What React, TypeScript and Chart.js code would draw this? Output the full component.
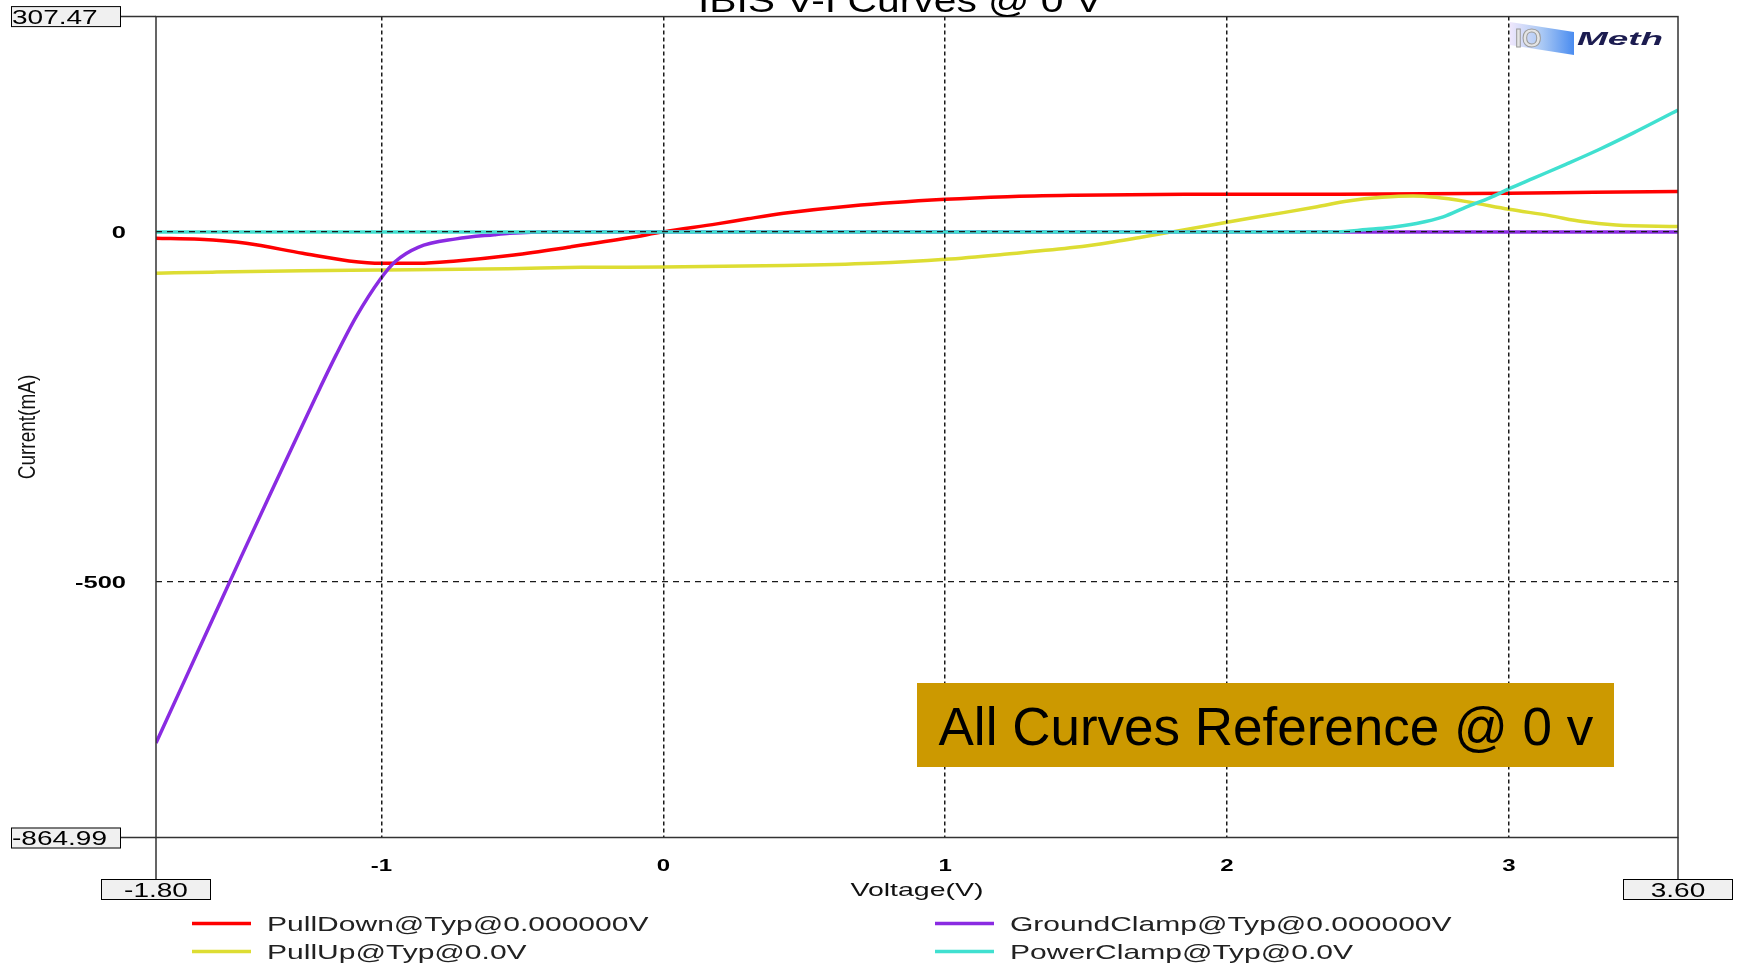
import React, { useEffect, useRef } from 'react';
import { Chart, registerables } from 'chart.js';

Chart.register(...registerables);

// ---------- texts ----------
const CHART_TITLE = 'IBIS V-I Curves @ 0 V';
const X_AXIS_TITLE = 'Voltage(V)';
const Y_AXIS_TITLE = 'Current(mA)';
const ANNOTATION_TEXT = 'All Curves Reference @ 0 v';
const LOGO_MARK = 'IO';
const LOGO_TEXT = 'Meth';

// ---------- axes ----------
const X_MIN = -1.8;
const X_MAX = 3.6;
const Y_MIN = -864.99;
const Y_MAX = 307.47;
const X_TICKS = [-1, 0, 1, 2, 3];
const Y_TICKS = [-500, 0];
const X_MIN_LABEL = '-1.80';
const X_MAX_LABEL = '3.60';
const Y_MIN_LABEL = '-864.99';
const Y_MAX_LABEL = '307.47';

// ---------- series ----------
const SERIES_LABELS = [
  'PullDown@Typ@0.000000V',
  'PullUp@Typ@0.0V',
  'GroundClamp@Typ@0.000000V',
  'PowerClamp@Typ@0.0V',
];
const SERIES_COLORS = ['#FF0000', '#DDDD33', '#8A2BE2', '#40E0D0'];

const PULLDOWN_V = [-1.8, -1.645, -1.48, -1.28, -1.115, -1.0, -0.87, -0.735, -0.53, -0.33, -0.12, 0.0, 0.19, 0.3, 0.427, 0.665, 1.0, 1.22, 1.46, 1.85, 2.4, 3.0, 3.3, 3.6];
const PULLDOWN_I = [-9, -10.6, -16.3, -30.6, -41.5, -44.9, -44.9, -41.5, -33, -21.5, -8.5, 0, 11.4, 18.7, 26.5, 37, 46.5, 50.3, 52.2, 53.6, 53.8, 55, 56.5, 57.5];

const PULLUP_V = [-1.8, -1.6, -1.28, -1.0, -0.55, -0.29, 0.0, 0.43, 0.74, 1.0, 1.22, 1.46, 1.6, 1.7, 1.805, 2.0, 2.08, 2.2, 2.32, 2.43, 2.55, 2.66, 2.74, 2.85, 3.0, 3.145, 3.26, 3.38, 3.6];
const PULLUP_I = [-59, -57.5, -55.5, -54.5, -52.6, -50.7, -50.2, -48.2, -44.9, -39.2, -31.6, -22.1, -14, -7.3, 0, 13.8, 19.4, 27.5, 36, 44.2, 49.4, 51.3, 49.4, 43.2, 32.3, 23.2, 14.7, 9.9, 7.5];

const GROUNDCLAMP_V = [-1.8, -1.7, -1.6, -1.5, -1.4, -1.3, -1.23, -1.16, -1.088, -1.005, -0.953, -0.87, -0.735, -0.6, -0.545, -0.4, 3.6];
const GROUNDCLAMP_I = [-730, -642, -554, -466, -379, -293, -233, -175, -120, -68, -43, -22, -10, -4, -2, 0, 0];

const POWERCLAMP_V = [-1.8, 2.39, 2.495, 2.578, 2.672, 2.767, 2.85, 2.932, 3.003, 3.086, 3.204, 3.322, 3.44, 3.6];
const POWERCLAMP_I = [0, 0, 3.3, 6.2, 12, 21.5, 35.8, 48.6, 62, 76.4, 96.8, 118, 141, 174];

// ---------- layout ----------
const W = 1737;
const H = 965;
const PLOT_LEFT = 156;
const PLOT_RIGHT = 1678;
const PLOT_TOP = 16.6;
const PLOT_BOTTOM = 837.5;
const FONT = '"Liberation Sans", Arial, Helvetica, sans-serif';

type TextOpts = {
  size: number;
  weight?: string;
  style?: string;
  sx?: number;
  align?: 'left' | 'center' | 'right';
  baseline?: CanvasTextBaseline;
  color?: string;
};

function drawText(ctx: CanvasRenderingContext2D, text: string, x: number, y: number, o: TextOpts) {
  ctx.save();
  ctx.font = `${o.style || 'normal'} ${o.weight || 'normal'} ${o.size}px ${FONT}`;
  ctx.fillStyle = o.color || '#000';
  ctx.textBaseline = o.baseline || 'alphabetic';
  ctx.textAlign = 'left';
  const sx = o.sx || 1;
  const w = ctx.measureText(text).width * sx;
  const align = o.align || 'left';
  const x0 = align === 'left' ? x : align === 'center' ? x - w / 2 : x - w;
  ctx.translate(x0, y);
  ctx.scale(sx, 1);
  ctx.fillText(text, 0, 0);
  ctx.restore();
}

function drawBox(ctx: CanvasRenderingContext2D, x: number, y: number, w: number, h: number, text: string, align: 'left' | 'center') {
  ctx.save();
  ctx.fillStyle = '#f0f0f0';
  ctx.fillRect(x, y, w, h);
  ctx.strokeStyle = '#000';
  ctx.lineWidth = 1;
  ctx.strokeRect(x + 0.5, y + 0.5, w - 1, h - 1);
  ctx.restore();
  const tx = align === 'left' ? x + 1 : x + w / 2;
  drawText(ctx, text, tx, y + h - 3.5, { size: 20, sx: 1.4, align, color: '#000' });
}

const decorPlugin = {
  id: 'ibisDecor',
  beforeDraw(chart: any) {
    const ctx = chart.ctx as CanvasRenderingContext2D;
    ctx.save();
    ctx.fillStyle = '#fff';
    ctx.fillRect(0, 0, chart.width, chart.height);
    ctx.restore();
  },
  afterDraw(chart: any) {
    const ctx = chart.ctx as CanvasRenderingContext2D;
    const a = chart.chartArea;
    const xs = chart.scales.x;
    const ys = chart.scales.y;

    // frame and extension lines
    ctx.save();
    ctx.strokeStyle = '#333';
    ctx.lineWidth = 1.5;
    ctx.strokeRect(a.left, a.top, a.right - a.left, a.bottom - a.top);
    ctx.beginPath();
    ctx.moveTo(a.left, a.top); ctx.lineTo(121, a.top);
    ctx.moveTo(a.left, a.bottom); ctx.lineTo(121, a.bottom);
    ctx.moveTo(a.left, a.bottom); ctx.lineTo(a.left, 879);
    ctx.moveTo(a.right, a.bottom); ctx.lineTo(a.right, 879);
    ctx.stroke();
    ctx.restore();

    // range boxes
    drawBox(ctx, 11, a.top - 10.5, 110, 21, Y_MAX_LABEL, 'left');
    drawBox(ctx, 11, a.bottom - 10, 110, 21, Y_MIN_LABEL, 'left');
    drawBox(ctx, a.left - 55, 879, 110, 21, X_MIN_LABEL, 'center');
    drawBox(ctx, a.right - 55, 879, 110, 21, X_MAX_LABEL, 'center');

    // tick labels
    Y_TICKS.forEach((v) => {
      drawText(ctx, String(v), 126, ys.getPixelForValue(v) + 1.5, { size: 17, weight: 'bold', sx: 1.5, align: 'right', baseline: 'middle', color: '#000' });
    });
    X_TICKS.forEach((v) => {
      drawText(ctx, String(v), xs.getPixelForValue(v), 867, { size: 16, weight: 'bold', sx: 1.5, align: 'center', baseline: 'middle', color: '#000' });
    });

    // axis titles
    drawText(ctx, X_AXIS_TITLE, (a.left + a.right) / 2, 896, { size: 19, sx: 1.5, align: 'center', color: '#111' });
    ctx.save();
    ctx.translate(28, (a.top + a.bottom) / 2);
    ctx.rotate(-Math.PI / 2);
    ctx.scale(1, 1.25);
    ctx.font = `normal normal 19px ${FONT}`;
    ctx.fillStyle = '#111';
    ctx.textAlign = 'center';
    ctx.textBaseline = 'middle';
    ctx.fillText(Y_AXIS_TITLE, 0, 0);
    ctx.restore();

    // title (cut by the top edge)
    drawText(ctx, CHART_TITLE, 900, 11.5, { size: 34, sx: 1.2, align: 'center', color: '#000' });

    // annotation
    ctx.save();
    ctx.fillStyle = '#CC9900';
    ctx.fillRect(917, 683, 697, 84);
    ctx.restore();
    drawText(ctx, ANNOTATION_TEXT, 938.5, 745, { size: 53, align: 'left', color: '#000' });

    // legend
    const cols = [{ lx: 192, tx: 267 }, { lx: 935, tx: 1010 }];
    const rows = [931, 959];
    chart.data.datasets.forEach((ds: any, i: number) => {
      const c = cols[Math.floor(i / 2)];
      const r = rows[i % 2];
      ctx.save();
      ctx.strokeStyle = ds.borderColor;
      ctx.lineWidth = 3.5;
      ctx.beginPath();
      ctx.moveTo(c.lx, r - 7.5);
      ctx.lineTo(c.lx + 59, r - 7.5);
      ctx.stroke();
      ctx.restore();
      drawText(ctx, ds.label, c.tx, r, { size: 21, sx: 1.43, align: 'left', color: '#222' });
    });

    // logo
    ctx.save();
    const g = ctx.createLinearGradient(1510, 0, 1574, 0);
    g.addColorStop(0, 'rgba(238,230,252,0.95)');
    g.addColorStop(0.5, '#a9c8f4');
    g.addColorStop(1, '#4a8cf0');
    ctx.fillStyle = g;
    ctx.beginPath();
    ctx.moveTo(1510, 22);
    ctx.lineTo(1574, 32);
    ctx.lineTo(1574, 55);
    ctx.lineTo(1510, 45);
    ctx.closePath();
    ctx.fill();
    ctx.restore();
    ctx.save();
    ctx.font = `normal bold 25px ${FONT}`;
    ctx.fillStyle = '#e4e4e4';
    ctx.strokeStyle = '#9a9a9a';
    ctx.lineWidth = 1;
    ctx.textBaseline = 'alphabetic';
    ctx.fillText(LOGO_MARK, 1515, 47);
    ctx.strokeText(LOGO_MARK, 1515, 47);
    ctx.restore();
    drawText(ctx, LOGO_TEXT, 1577, 45, { size: 18, weight: 'bold', style: 'italic', sx: 2.05, align: 'left', color: '#1c1c50' });
  },
};

const toPoints = (xv: number[], yv: number[]) => xv.map((x, i) => ({ x, y: yv[i] }));

export default function App() {
  const ref = useRef<HTMLCanvasElement>(null);

  useEffect(() => {
    const canvas = ref.current;
    if (!canvas) return;
    const seriesX = [PULLDOWN_V, PULLUP_V, GROUNDCLAMP_V, POWERCLAMP_V];
    const seriesY = [PULLDOWN_I, PULLUP_I, GROUNDCLAMP_I, POWERCLAMP_I];
    const drawOrder = [3, 2, 1, 0];
    const datasets = SERIES_LABELS.map((label, i) => ({
      label,
      data: toPoints(seriesX[i], seriesY[i]),
      borderColor: SERIES_COLORS[i],
      backgroundColor: SERIES_COLORS[i],
      borderWidth: 3.5,
      pointRadius: 0,
      fill: false,
      cubicInterpolationMode: 'monotone' as const,
      order: drawOrder[i],
    }));

    const chart = new Chart(canvas, {
      type: 'line',
      data: { datasets },
      options: {
        responsive: false,
        animation: false,
        devicePixelRatio: 1,
        events: [],
        layout: { padding: { left: 0, top: PLOT_TOP, right: W - PLOT_RIGHT, bottom: 0 } },
        plugins: {
          legend: { display: false },
          title: { display: false },
          tooltip: { enabled: false },
        },
        scales: {
          x: {
            type: 'linear',
            min: X_MIN,
            max: X_MAX,
            afterBuildTicks: (s: any) => { s.ticks = X_TICKS.map((v) => ({ value: v })); },
            afterFit: (s: any) => { s.height = H - PLOT_BOTTOM; },
            ticks: { display: false },
            grid: { color: '#1a1a1a', lineWidth: 1.5, drawTicks: false, z: 1 },
            border: { display: false, dash: [4, 3] },
          },
          y: {
            type: 'linear',
            min: Y_MIN,
            max: Y_MAX,
            afterBuildTicks: (s: any) => { s.ticks = Y_TICKS.map((v) => ({ value: v })); },
            afterFit: (s: any) => { s.width = PLOT_LEFT; },
            ticks: { display: false },
            grid: { color: '#1a1a1a', lineWidth: 1.3, drawTicks: false, z: 1 },
            border: { display: false, dash: [6, 5] },
          },
        },
      } as any,
      plugins: [decorPlugin],
    });
    return () => chart.destroy();
  }, []);

  return (
    <div style={{ position: 'fixed', left: 0, top: 0, width: W, height: H, background: '#fff' }}>
      <canvas ref={ref} width={W} height={H} style={{ display: 'block', width: W, height: H }} />
    </div>
  );
}
